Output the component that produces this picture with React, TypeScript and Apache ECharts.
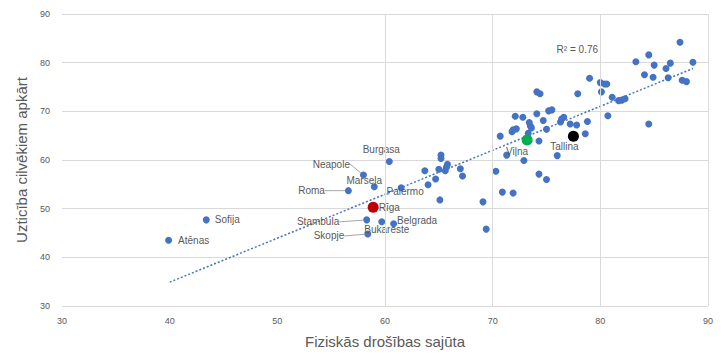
import React, { useEffect, useRef } from "react";
import * as echarts from "echarts";

// ---- data ----
const xTicks = [30, 40, 50, 60, 70, 80, 90];
const vGridX = [60, 70, 80, 90];

const cityNames = ["Atēnas", "Sofija", "Roma", "Neapole", "Marseļa", "Burgasa", "Palermo", "Stambula", "Belgrada", "Bukareste", "Skopje"];
const cityX = [39.9, 43.4, 56.6, 58.0, 59.0, 60.4, 61.5, 58.3, 60.8, 59.7, 58.4];
const cityY = [43.5, 47.7, 53.7, 56.9, 54.5, 59.7, 54.3, 47.7, 46.9, 47.3, 44.8];

const balticNames = ["Rīga", "Viļna", "Tallina"];
const balticX = [58.9, 73.2, 77.5];
const balticY = [50.3, 64.1, 64.9];
const balticColors = ["#C00000", "#00B050", "#000000"];

const otherX = [
  63.7, 64.0, 64.7, 65.0, 65.2, 65.2, 65.8, 65.7, 65.6, 67.0, 67.2, 65.1, 69.1, 69.4, 70.3, 70.9, 71.9, 74.3,
  75.0, 71.3, 72.9, 76.0, 70.7, 71.8, 71.9, 72.2, 73.3, 73.4, 73.5, 73.6, 74.3, 75.0, 78.6, 72.1, 72.8, 74.1,
  75.2, 75.5, 74.7, 76.3, 76.4, 76.6, 77.2, 77.8, 78.8, 80.7, 74.1, 74.4, 77.9, 79.0, 80.0, 80.4, 80.6, 80.1,
  81.1, 81.7, 82.0, 82.3, 83.3, 84.5, 84.1, 84.9, 85.0, 86.1, 86.3, 86.5, 87.4, 87.6, 88.0, 88.6, 84.5,
];
const otherY = [
  57.8, 54.9, 56.1, 58.1, 61.0, 60.3, 59.1, 58.5, 57.8, 58.2, 56.7, 51.8, 51.4, 45.8, 57.7, 53.4, 53.2, 57.1,
  56.0, 61.0, 59.9, 60.9, 64.9, 65.8, 66.2, 66.4, 65.5, 67.7, 67.0, 66.6, 63.9, 66.3, 65.4, 69.0, 68.8, 69.5,
  70.1, 70.3, 68.1, 67.8, 68.4, 68.8, 67.4, 67.2, 67.9, 69.1, 74.0, 73.6, 73.6, 76.8, 75.9, 75.6, 75.6, 74.0,
  72.9, 72.2, 72.3, 72.6, 80.2, 81.6, 77.5, 77.0, 79.5, 78.8, 76.9, 79.9, 84.2, 76.4, 76.1, 80.1, 67.4,
];

const trendX = [40, 88.6];
const trendY = [34.9, 78.8];
const rSquaredText = "R² = 0.76";

const xName = "Fiziskās drošības sajūta";
const yName = "Uzticība cilvēkiem apkārt";

// ---- styles ----
const FONT = "'Liberation Sans', Arial, sans-serif";
const LABEL_COLOR = "#595959";
const BLUE = "#4472C4";

const labelStyle: Record<string, any> = {
  "Atēnas": { position: "right", distance: 6 },
  "Sofija": { position: "right", distance: 5 },
  "Roma": { position: "left", distance: 20, line: true },
  "Neapole": { position: "left", distance: 10, offset: [0, -11], line: true },
  "Marseļa": { position: "top", distance: 0, offset: [-10, 2] },
  "Burgasa": { position: "top", distance: 3, offset: [-8, 0] },
  "Palermo": { position: "inside", offset: [4, 4] },
  "Stambula": { position: "left", distance: 24, offset: [0, 2], line: true },
  "Belgrada": { position: "right", distance: 0, offset: [0, -3] },
  "Bukareste": { position: "inside", offset: [5, 8] },
  "Skopje": { position: "left", distance: 20, offset: [0, 2], line: true },
  "Rīga": { position: "right", distance: 0 },
  "Viļna": { position: "inside", offset: [-10, 11] },
  "Tallina": { position: "inside", offset: [-9, 10] },
};

function labelFor(name: string) {
  const s = labelStyle[name] || {};
  return {
    label: {
      show: true,
      formatter: name,
      position: s.position,
      distance: s.distance ?? 5,
      color: LABEL_COLOR,
      fontSize: 10,
      fontFamily: FONT,
    },
    labelLine: {
      show: !!s.line,
      lineStyle: { color: "#a6a6a6", width: 1 },
    },
  };
}

function layoutFor(names: string[]) {
  return (params: any) => {
    const s = labelStyle[names[params.dataIndex]] || {};
    const off = s.offset || [0, 0];
    return { dx: off[0], dy: off[1], hideOverlap: false };
  };
}

export default function App() {
  const ref = useRef<HTMLDivElement>(null);

  useEffect(() => {
    if (!ref.current) return;
    const chart = echarts.init(ref.current, undefined, { renderer: "svg" });

    const otherData = otherX.map((x, i) => [x, otherY[i]]);
    const cityData = cityNames.map((n, i) => ({ value: [cityX[i], cityY[i]], name: n, ...labelFor(n) }));
    const balticData = balticNames.map((n, i) => ({
      value: [balticX[i], balticY[i]],
      name: n,
      itemStyle: { color: balticColors[i] },
      ...labelFor(n),
    }));

    chart.setOption({
      animation: false,
      textStyle: { fontFamily: FONT },
      grid: { left: 62, right: 18, top: 14, bottom: 49, containLabel: false },
      xAxis: {
        type: "value",
        min: xTicks[0],
        max: xTicks[xTicks.length - 1],
        interval: 10,
        name: xName,
        nameLocation: "middle",
        nameGap: 28,
        nameTextStyle: { color: LABEL_COLOR, fontSize: 15, fontFamily: FONT },
        axisLine: { show: false },
        axisTick: { show: false },
        splitLine: { show: false },
        axisLabel: { color: LABEL_COLOR, fontSize: 9, margin: 10, fontFamily: FONT },
      },
      yAxis: {
        type: "value",
        min: 30,
        max: 90,
        interval: 10,
        name: yName,
        nameLocation: "middle",
        nameGap: 23,
        nameTextStyle: { color: LABEL_COLOR, fontSize: 15, fontFamily: FONT },
        axisLine: { show: false },
        axisTick: { show: false },
        splitLine: { show: true, lineStyle: { color: "#d9d9d9", width: 1 } },
        axisLabel: { color: LABEL_COLOR, fontSize: 9, margin: 12, fontFamily: FONT },
      },
      graphic: [
        {
          type: "text",
          right: 128,
          top: 44,
          style: { text: rSquaredText, fill: LABEL_COLOR, font: `10px ${FONT}` },
        },
      ],
      series: [
        {
          type: "scatter",
          data: [],
          z: 1,
          silent: true,
          markLine: {
            silent: true,
            symbol: "none",
            label: { show: false },
            lineStyle: { color: "#d9d9d9", type: "solid", width: 1 },
            data: vGridX.map((v) => ({ xAxis: v })),
          },
        },
        {
          type: "line",
          data: trendX.map((x, i) => [x, trendY[i]]),
          showSymbol: false,
          symbol: "none",
          z: 2,
          lineStyle: { color: BLUE, width: 1.5, type: [2, 2] },
        },
        {
          type: "scatter",
          data: otherData,
          symbolSize: 7,
          z: 3,
          itemStyle: { color: BLUE, opacity: 1 },
        },
        {
          type: "scatter",
          data: cityData,
          symbolSize: 7,
          z: 4,
          itemStyle: { color: BLUE, opacity: 1 },
          labelLayout: layoutFor(cityNames),
        },
        {
          type: "scatter",
          data: balticData,
          symbolSize: 11,
          z: 5,
          itemStyle: { opacity: 1 },
          labelLayout: layoutFor(balticNames),
        },
      ],
    });

    return () => chart.dispose();
  }, []);

  return (
    <div
      ref={ref}
      style={{ position: "absolute", left: 0, top: 0, width: 726, height: 355, background: "#fff" }}
    />
  );
}
